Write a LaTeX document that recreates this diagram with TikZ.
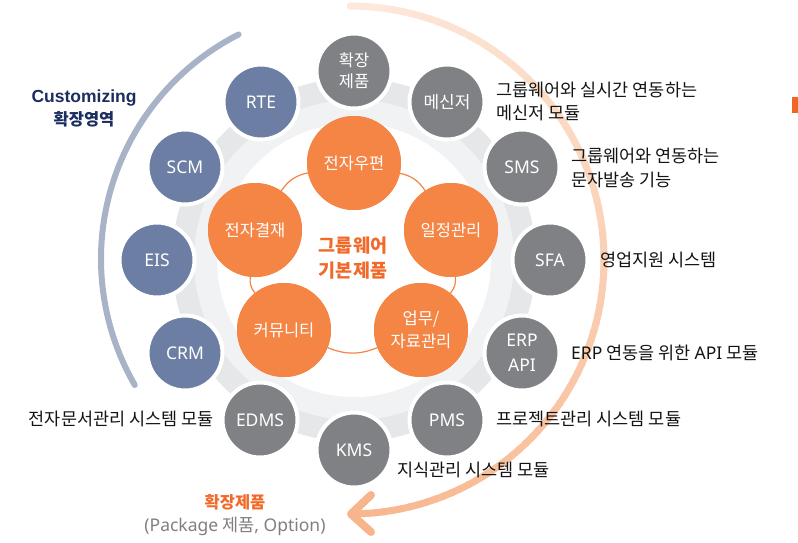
\documentclass[tikz,border=0pt]{standalone}
\usepackage{fontspec}
\setmainfont{Noto Sans CJK KR}
\newfontfamily\latf{Noto Sans}
\newfontfamily\latb{Liberation Sans}
\newcommand\lat[1]{{\latf #1}}
\definecolor{gearout}{HTML}{E6E7E9}
\definecolor{gearin}{HTML}{F1F2F4}
\definecolor{cgray}{HTML}{808185}
\definecolor{cblue}{HTML}{6C7EA3}
\definecolor{corange}{HTML}{F58545}
\definecolor{arcor}{HTML}{F6A673}
\definecolor{barc}{HTML}{A8B3C8}
\definecolor{navy}{HTML}{1B2E5F}
\definecolor{titleor}{HTML}{F26A2A}
\definecolor{subgray}{HTML}{7F7F7F}
\definecolor{txt}{HTML}{141414}
\definecolor{accent}{HTML}{F26522}
\tikzset{
  outer/.style={circle, minimum size=75pt, inner sep=0pt, draw=white, line width=4pt,
    text=white, align=center, font=\fontsize{16.5}{21}\selectfont},
  latc/.style={font=\latf\fontsize{17.5}{25}\selectfont},
  grayc/.style={outer, fill=cgray},
  bluec/.style={outer, fill=cblue, latc},
  corec/.style={circle, minimum size=94pt, inner sep=0pt, fill=corange, text=white,
    align=center, font=\fontsize{16.5}{23}\selectfont},
  desc/.style={text=txt, align=left, inner sep=0pt, font=\fontsize{17.5}{23.5}\selectfont},
  link/.style={draw=corange, line width=1.2pt},
}
\begin{document}
\begin{tikzpicture}[x=1pt,y=-1pt]
\useasboundingbox (0,0) rectangle (798,542);
% gear background
\fill[gearout] (354,260) circle[radius=182pt];
\fill[gearin] (354,260) circle[radius=160pt];
\fill[white] (354,260) circle[radius=137pt];
% left blue arc
\draw[barc, line width=6pt, line cap=round] (353,259) ++(117:252pt) arc[start angle=117, end angle=210, radius=252pt];
% right orange gradient arc
\draw[arcor!25!white, line width=7pt, line cap=round] (350,260) ++(90:254pt) arc[start angle=90, end angle=89, radius=254pt];
\foreach \a in {90,88,...,-86}{
  \pgfmathtruncatemacro{\p}{25+(90-\a)/180*58}
  \draw[arcor!\p!white, line width=7pt] (350,260) ++(\a:254pt) arc[start angle=\a, end angle=\a-2.6, radius=254pt];
}
\coordinate (tip) at (351,514);
\coordinate (armA) at (371,495);
\coordinate (armB) at (371,532);
\draw[arcor!83!white, line width=8pt, line cap=round, line join=round] (armA) -- (tip) -- (armB);
% core circles and connectors
\node[corec] (mail) at (354,163) {전자우편};
\node[corec] (sched) at (451,230) {일정관리};
\node[corec] (work) at (421,330) {업무/\\자료관리};
\node[corec] (comm) at (284,330) {커뮤니티};
\node[corec] (appr) at (255,230) {전자결재};
\draw[link] (mail) to[bend left=22] (sched);
\draw[link] (sched) to[bend left=22] (work);
\draw[link] (work) to[bend left=22] (comm);
\draw[link] (comm) to[bend left=22] (appr);
\draw[link] (appr) to[bend left=22] (mail);
\node[corec] at (mail) {전자우편};
\node[corec] at (sched) {일정관리};
\node[corec] at (work) {업무/\\자료관리};
\node[corec] at (comm) {커뮤니티};
\node[corec] at (appr) {전자결재};
\node[text=titleor, align=center, font=\fontsize{18.5}{25}\selectfont\bfseries] (core) at (353,258) {그룹웨어\\기본제품};
% outer circles
\node[grayc] (ext) at (354,71) {확장\\제품};
\node[grayc, font=\fontsize{17}{21}\selectfont] (msg) at (447,102) {메신저};
\node[grayc, latc] (sms) at (522,167) {SMS};
\node[grayc, latc] (sfa) at (550,260) {SFA};
\node[grayc, latc] (erp) at (522,353) {ERP\\API};
\node[grayc, latc] (pms) at (447,420) {PMS};
\node[grayc, latc] (kms) at (354,450) {KMS};
\node[grayc, latc] (edms) at (260,420) {EDMS};
\node[bluec] (crm) at (185,353) {CRM};
\node[bluec] (eis) at (157,260) {EIS};
\node[bluec] (scm) at (185,167) {SCM};
\node[bluec] (rte) at (261,102) {RTE};
% descriptions
\node[desc, anchor=west] (dmsg) at (496,101.5) {그룹웨어와 실시간 연동하는\\메신저 모듈};
\node[desc, anchor=west] (dsms) at (571,168) {그룹웨어와 연동하는\\문자발송 기능};
\node[desc, anchor=west] (dsfa) at (600,260) {영업지원 시스템};
\node[desc, anchor=west] (derp) at (571,353) {\lat{ERP} 연동을 위한 \lat{API} 모듈};
\node[desc, anchor=west] (dpms) at (496,419) {프로젝트관리 시스템 모듈};
\node[desc, anchor=west] (dkms) at (397,470) {지식관리 시스템 모듈};
\node[desc, anchor=east] (dedms) at (214,419) {전자문서관리 시스템 모듈};
% side labels
\node[text=navy, align=center, font=\fontsize{16.5}{23}\selectfont\bfseries] (cust) at (84,108) {{\latb\bfseries\fontsize{17.5}{23}\selectfont Customizing}\\확장영역};
\node[text=titleor, font=\fontsize{16.5}{20}\selectfont\bfseries] (extl) at (235,502) {확장제품};
\node[text=subgray, font=\fontsize{17.5}{20}\selectfont] (pkg) at (235,526) {\lat{(Package} 제품\lat{, Option)}};
% accent mark
\fill[accent] (792,97) rectangle (798,113);
\end{tikzpicture}
\end{document}
